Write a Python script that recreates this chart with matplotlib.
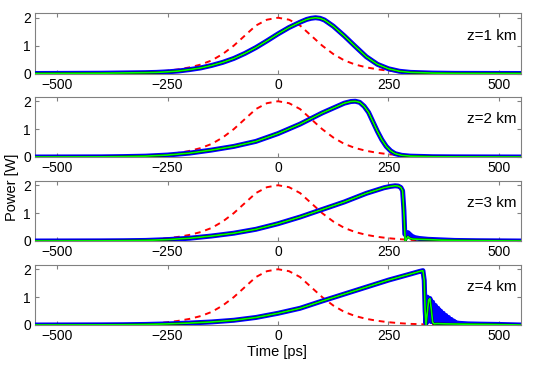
import matplotlib
matplotlib.use('Agg')
import matplotlib.pyplot as plt

plt.rcParams['font.family'] = ['Liberation Sans', 'DejaVu Sans']

# input pulse (red dashed), same in every panel
t_in = [-550, -450, -400, -350, -300, -275, -250, -225, -200, -175, -150, -125, -100, -75, -50, -25,
        0, 25, 50, 75, 100, 125, 150, 175, 200, 225, 250, 275, 300, 350, 400, 450, 550]
p_in = [0.0, 0.0, 0.005, 0.015, 0.04, 0.065, 0.10, 0.15, 0.22, 0.32, 0.47, 0.70, 1.0, 1.36, 1.72, 1.93,
        2.0, 1.93, 1.72, 1.36, 1.0, 0.70, 0.47, 0.32, 0.22, 0.15, 0.10, 0.065, 0.04, 0.015, 0.005, 0.0, 0.0]

# z = 1 km
t1 = [-550, -400, -350, -300, -275, -250, -225, -200, -175, -150, -125, -100, -75, -50, -25,
      0, 25, 50, 65, 75, 85, 95, 105, 125, 150, 175, 200, 225, 250, 275, 300, 350, 400, 550]
p1 = [0.0, 0.01, 0.02, 0.03, 0.04, 0.06, 0.09, 0.14, 0.20, 0.29, 0.40, 0.54, 0.72, 0.93, 1.17,
      1.42, 1.65, 1.84, 1.94, 1.98, 2.0, 1.98, 1.92, 1.70, 1.35, 0.97, 0.60, 0.33, 0.17, 0.08, 0.04, 0.015, 0.005, 0.0]

# z = 2 km
t2 = [-550, -400, -350, -300, -250, -200, -150, -100, -50, 0, 50, 100, 150, 165, 175,
      185, 195, 205, 215, 225, 235, 245, 255, 265, 280, 300, 350, 400, 550]
p2 = [0.0, 0.005, 0.015, 0.03, 0.07, 0.14, 0.25, 0.38, 0.56, 0.84, 1.18, 1.58, 1.93, 1.99, 2.0,
      1.96, 1.82, 1.60, 1.26, 0.92, 0.62, 0.38, 0.22, 0.12, 0.06, 0.03, 0.01, 0.005, 0.0]

# z = 3 km
t3_b = [-550, -400, -350, -300, -250, -200, -150, -100, -50, 0, 50, 100, 150, 200, 240, 255, 265,
        272, 278, 282, 285, 287, 290, 294, 298, 303, 310, 320, 340, 370, 400, 450, 550]
p3_b = [0.0, 0.005, 0.01, 0.02, 0.05, 0.10, 0.18, 0.28, 0.42, 0.62, 0.86, 1.13, 1.40, 1.71, 1.91, 1.96, 1.98,
        1.97, 1.92, 1.80, 1.10, 0.25, 0.20, 0.30, 0.24, 0.17, 0.12, 0.09, 0.06, 0.04, 0.02, 0.01, 0.0]
t3_g = [-550, -400, -350, -300, -250, -200, -150, -100, -50, 0, 50, 100, 150, 200, 240, 255, 265,
        272, 278, 282, 285, 288, 291, 294, 298, 305, 320, 340, 370, 400, 450, 550]
p3_g = [0.0, 0.005, 0.01, 0.02, 0.05, 0.10, 0.18, 0.28, 0.42, 0.62, 0.86, 1.13, 1.40, 1.71, 1.91, 1.96, 1.98,
        1.97, 1.92, 1.80, 1.00, 0.0, 0.08, 0.16, 0.10, 0.07, 0.06, 0.05, 0.03, 0.02, 0.01, 0.0]

# z = 4 km
t4_b = [-550, -400, -350, -300, -250, -200, -150, -100, -50, 0, 50, 100, 150, 200, 250, 300, 320, 328,
        331, 333, 335, 338, 341, 344, 347, 350, 353, 356, 359, 362, 365, 368, 371, 374, 377, 380,
        383, 386, 389, 392, 395, 398, 402, 410, 430, 460, 500, 550]
p4_b = [0.0, 0.005, 0.01, 0.02, 0.04, 0.07, 0.11, 0.17, 0.27, 0.42, 0.60, 0.86, 1.11, 1.36, 1.61, 1.83, 1.92, 1.95,
        1.60, 0.50, 0.05, 1.00, 0.15, 0.95, 0.12, 0.82, 0.10, 0.70, 0.09, 0.60, 0.08, 0.50, 0.07, 0.42, 0.06, 0.34,
        0.05, 0.27, 0.05, 0.20, 0.05, 0.14, 0.08, 0.06, 0.04, 0.03, 0.02, 0.0]
t4_g = [-550, -400, -350, -300, -250, -200, -150, -100, -50, 0, 50, 100, 150, 200, 250, 300, 320, 328,
        331, 333, 335, 338, 341, 344, 347, 350, 353, 360, 380, 420, 480, 550]
p4_g = [0.0, 0.005, 0.01, 0.02, 0.04, 0.07, 0.11, 0.17, 0.27, 0.42, 0.60, 0.86, 1.11, 1.36, 1.61, 1.83, 1.92, 1.95,
        1.60, 0.50, 0.0, 0.45, 0.90, 0.95, 0.55, 0.10, 0.04, 0.05, 0.04, 0.03, 0.02, 0.0]

panels = [
    ('z=1 km', t1, p1, t1, p1),
    ('z=2 km', t2, p2, t2, p2),
    ('z=3 km', t3_b, p3_b, t3_g, p3_g),
    ('z=4 km', t4_b, p4_b, t4_g, p4_g),
]
xticks = [-500, -250, 0, 250, 500]
yticks = [0, 1, 2]

fig = plt.figure(figsize=(5.45, 3.74), dpi=100)
W, H = 545.0, 374.0
left, right = 35, 521
tops = [13, 96.5, 180.5, 264.5]
h = 60.5
gray = '#808080'

for (label, tb, pb, tg, pg), top in zip(panels, tops):
    ax = fig.add_axes([left / W, 1 - (top + h) / H, (right - left) / W, h / H])
    ax.plot(t_in, p_in, '--', color='red', lw=1.4, dashes=(3, 2.5), zorder=2)
    ax.plot(tb, pb, color='blue', lw=3.6, zorder=3)
    ax.plot(tg, pg, color='black', lw=1.6, zorder=4)
    ax.plot(tg, pg, color='#00ff00', lw=1.2, zorder=5)
    ax.set_xlim(-550, 550)
    ax.set_ylim(0, 2.17)
    ax.set_xticks(xticks)
    ax.set_yticks(yticks)
    ax.tick_params(direction='in', length=3, color=gray, labelsize=10, top=True, right=True, pad=3)
    for s in ax.spines.values():
        s.set_color(gray)
        s.set_linewidth(0.8)
    ax.text(0.99, 0.62, label, transform=ax.transAxes, ha='right', va='center', fontsize=11)

fig.text(12 / W, 1 - 187 / H, 'Power [W]', rotation=90, ha='center', va='center', fontsize=10.5)
fig.text(277 / W, 1 - 352 / H, 'Time [ps]', ha='center', va='center', fontsize=10.5)

fig.savefig('out.png', dpi=100)
